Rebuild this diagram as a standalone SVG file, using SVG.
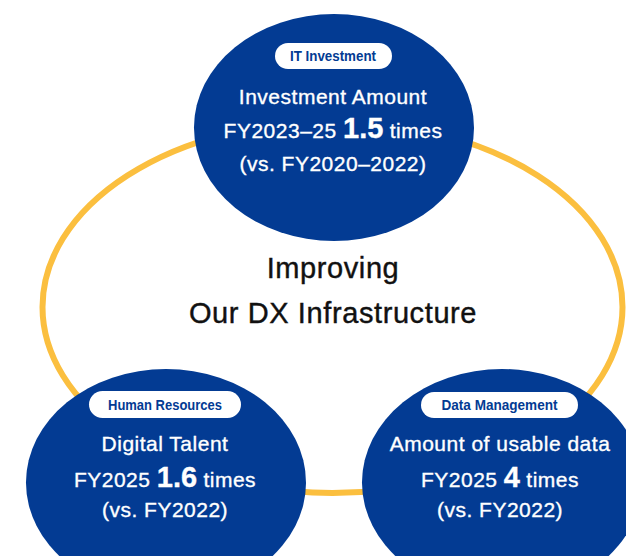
<svg xmlns="http://www.w3.org/2000/svg" width="626" height="556" viewBox="0 0 626 556">
  <style>
    .ring { fill: none; stroke: #FBBF3F; stroke-width: 6; }
    .disc { fill: #033B93; }
    .pill { fill: #FFFFFF; }
    .tag { font-family: "Liberation Sans", Arial, sans-serif; font-weight: bold; font-size: 15px; fill: #033B93; text-anchor: middle; }
    .body { font-family: "Liberation Sans", Arial, sans-serif; font-size: 21px; letter-spacing: 0.5px; fill: #FFFFFF; stroke: #FFFFFF; stroke-width: 0.35; text-anchor: middle; }
    .big { font-weight: bold; font-size: 29px; letter-spacing: 0; }
    .title { font-family: "Liberation Sans", Arial, sans-serif; font-size: 29px; letter-spacing: 0.6px; fill: #111111; stroke: #111111; stroke-width: 0.4; text-anchor: middle; }
  </style>
  <rect width="626" height="556" fill="#FFFFFF"/>

  <!-- connecting ring behind the three topics -->
  <g id="connectors">
    <ellipse class="ring" cx="332.5" cy="307" rx="290" ry="186"/>
  </g>

  <g id="center">
    <text class="title" x="333" y="278">Improving</text>
    <text class="title" x="333" y="323">Our DX Infrastructure</text>
  </g>

  <g id="it-investment">
    <ellipse class="disc" cx="334" cy="127.5" rx="140" ry="113.5"/>
    <rect class="pill" x="275" y="43" width="117" height="26" rx="13"/>
    <text class="tag" x="333" y="61" textLength="86" lengthAdjust="spacingAndGlyphs">IT Investment</text>
    <text class="body" x="333" y="104">Investment Amount</text>
    <text class="body" x="333" y="138">FY2023–25 <tspan class="big">1.5</tspan> times</text>
    <text class="body" x="333" y="171">(vs. FY2020–2022)</text>
  </g>

  <g id="human-resources">
    <ellipse class="disc" cx="166" cy="482.5" rx="140" ry="113.5"/>
    <rect class="pill" x="89" y="391" width="152" height="27" rx="13.5"/>
    <text class="tag" x="165" y="410" textLength="114" lengthAdjust="spacingAndGlyphs">Human Resources</text>
    <text class="body" x="165" y="451">Digital Talent</text>
    <text class="body" x="165" y="487">FY2025 <tspan class="big">1.6</tspan> times</text>
    <text class="body" x="165" y="517">(vs. FY2022)</text>
  </g>

  <g id="data-management">
    <ellipse class="disc" cx="502" cy="482.5" rx="140" ry="113.5"/>
    <rect class="pill" x="421" y="392" width="157" height="26" rx="13"/>
    <text class="tag" x="499.5" y="410" textLength="116" lengthAdjust="spacingAndGlyphs">Data Management</text>
    <text class="body" x="500" y="451">Amount of usable data</text>
    <text class="body" x="500" y="487">FY2025 <tspan class="big">4</tspan> times</text>
    <text class="body" x="500" y="517">(vs. FY2022)</text>
  </g>
</svg>
